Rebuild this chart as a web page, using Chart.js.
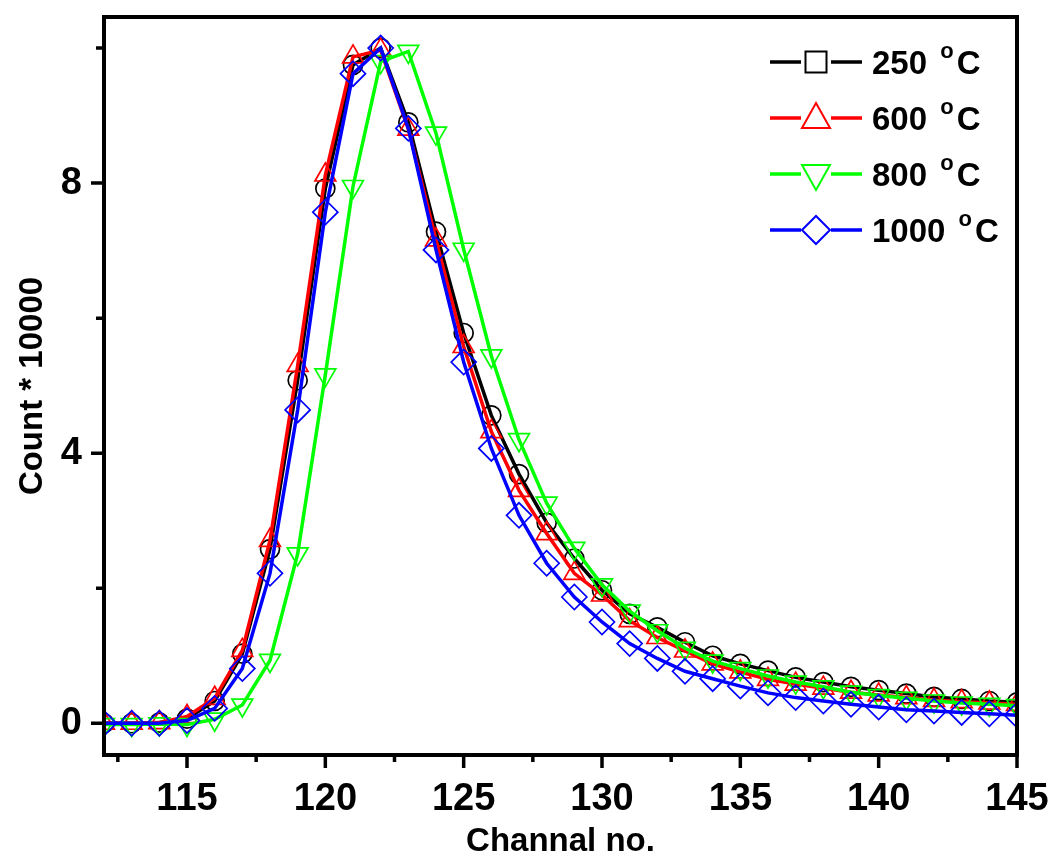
<!DOCTYPE html>
<html>
<head>
<meta charset="utf-8">
<title>Channel spectrum</title>
<script src="https://cdn.jsdelivr.net/npm/chart.js@4.4.1/dist/chart.umd.min.js"></script>
<style>
  html, body { margin: 0; padding: 0; background: #fff; }
  #wrap { width: 1051px; height: 859px; }
</style>
</head>
<body>
<div id="wrap"><canvas id="chart" width="1051" height="859"></canvas></div>
<script>
// channel numbers (x)
const channels = [112, 113, 114, 115, 116, 117, 118, 119, 120, 121, 122, 123, 124, 125, 126, 127, 128,
  129, 130, 131, 132, 133, 134, 135, 136, 137, 138, 139, 140, 141, 142, 143, 144, 145];

// counts / 10000
const c250 = [0.0, 0.0, 0.01, 0.07, 0.33, 1.03, 2.58, 5.08, 7.92, 9.75, 10.0, 8.9, 7.28, 5.78, 4.56, 3.69, 2.97,
  2.44, 1.97, 1.62, 1.42, 1.2, 1.0, 0.88, 0.78, 0.68, 0.61, 0.54, 0.49, 0.44, 0.39, 0.36, 0.33, 0.31];
const c600 = [0.0, 0.0, 0.01, 0.1, 0.37, 1.08, 2.71, 5.3, 8.12, 9.87, 9.97, 8.8, 7.16, 5.58, 4.32, 3.45, 2.81,
  2.22, 1.9, 1.52, 1.27, 1.07, 0.88, 0.76, 0.65, 0.58, 0.52, 0.46, 0.42, 0.38, 0.34, 0.32, 0.3, 0.28];
const c800 = [-0.02, -0.02, -0.01, -0.02, 0.06, 0.27, 0.93, 2.51, 5.16, 7.95, 9.8, 9.95, 8.74, 7.02, 5.44, 4.2, 3.26,
  2.59, 2.05, 1.66, 1.37, 1.11, 0.92, 0.81, 0.7, 0.61, 0.54, 0.46, 0.41, 0.37, 0.33, 0.3, 0.28, 0.26];
const c1000 = [0.0, 0.0, 0.0, 0.04, 0.22, 0.81, 2.22, 4.64, 7.57, 9.62, 10.0, 8.81, 7.01, 5.35, 4.07, 3.08, 2.37,
  1.87, 1.5, 1.18, 0.96, 0.77, 0.66, 0.55, 0.45, 0.38, 0.33, 0.28, 0.24, 0.2, 0.18, 0.16, 0.14, 0.12];

const seriesNames = ['250', '600', '800', '1000'];
const xTicks = [115, 120, 125, 130, 135, 140, 145];
const xMinorTicks = [112.5, 117.5, 122.5, 127.5, 132.5, 137.5, 142.5];
const yTicks = [0, 4, 8];
const yMinorTicks = [2, 6, 10];

const FONT = 'Liberation Sans, Arial, sans-serif';

function pts(vals) {
  return channels.map((c, i) => ({ x: c, y: vals[i] }));
}

function series(label, vals, color, style, radius, rotation, order) {
  return {
    label: label,
    data: pts(vals),
    borderColor: color,
    borderWidth: 3.5,
    tension: 0,
    pointStyle: style,
    pointRadius: radius,
    pointRotation: rotation,
    pointBorderColor: color,
    pointBackgroundColor: 'rgba(0,0,0,0)',
    pointBorderWidth: 1.7,
    order: order
  };
}

// frame + outward ticks
const framePlugin = {
  id: 'frame',
  afterDatasetsDraw(chart) {
    const { ctx, chartArea: a, scales } = chart;
    ctx.save();
    ctx.strokeStyle = '#000';
    ctx.lineWidth = 4;
    ctx.strokeRect(a.left, a.top, a.right - a.left, a.bottom - a.top);
    ctx.lineWidth = 3.5;
    ctx.beginPath();
    xTicks.concat(xMinorTicks).forEach(v => {
      const x = scales.x.getPixelForValue(v);
      const len = xTicks.includes(v) ? 13 : 7;
      ctx.moveTo(x, a.bottom);
      ctx.lineTo(x, a.bottom + len);
    });
    yTicks.concat(yMinorTicks).forEach(v => {
      const y = scales.y.getPixelForValue(v);
      const len = yTicks.includes(v) ? 13 : 8;
      ctx.moveTo(a.left, y);
      ctx.lineTo(a.left - len, y);
    });
    ctx.stroke();
    ctx.restore();
  }
};

// legend drawn like the original: line - marker - line, then "250 °C"
const legendPlugin = {
  id: 'customLegend',
  afterDraw(chart) {
    const ctx = chart.ctx;
    const rows = [62, 118, 174, 230];
    const marks = ['square', 'up', 'down', 'diamond'];
    ctx.save();
    chart.data.datasets.forEach((ds, i) => {
      const cy = rows[i];
      const cx = 816;
      ctx.strokeStyle = ds.borderColor;
      ctx.lineWidth = 3.5;
      ctx.beginPath();
      ctx.moveTo(770, cy); ctx.lineTo(801, cy);
      ctx.moveTo(831, cy); ctx.lineTo(862, cy);
      ctx.stroke();
      ctx.lineWidth = 2;
      ctx.beginPath();
      if (marks[i] === 'square') {
        ctx.rect(cx - 10.5, cy - 10.5, 21, 21);
      } else if (marks[i] === 'up') {
        ctx.moveTo(cx, cy - 15); ctx.lineTo(cx + 14, cy + 10); ctx.lineTo(cx - 14, cy + 10); ctx.closePath();
      } else if (marks[i] === 'down') {
        ctx.moveTo(cx - 14, cy - 9); ctx.lineTo(cx + 14, cy - 9); ctx.lineTo(cx, cy + 16); ctx.closePath();
      } else {
        ctx.moveTo(cx - 14, cy); ctx.lineTo(cx, cy - 14); ctx.lineTo(cx + 14, cy); ctx.lineTo(cx, cy + 14); ctx.closePath();
      }
      ctx.stroke();

      ctx.fillStyle = '#000';
      ctx.textBaseline = 'alphabetic';
      ctx.textAlign = 'left';
      ctx.font = 'bold 33px ' + FONT;
      let x = 872;
      const base = cy + 12;
      const num = ds.label + ' ';
      ctx.fillText(num, x, base);
      x += ctx.measureText(num).width + 4;
      ctx.font = 'bold 22px ' + FONT;
      ctx.fillText('o', x, base - 16);
      x += ctx.measureText('o').width + 3;
      ctx.font = 'bold 33px ' + FONT;
      ctx.fillText('C', x, base);
    });
    ctx.restore();
  }
};

function noPad(s) {
  s.paddingLeft = 0; s.paddingRight = 0; s.paddingTop = 0; s.paddingBottom = 0;
}

new Chart(document.getElementById('chart'), {
  type: 'line',
  data: {
    datasets: [
      series(seriesNames[0], c250, '#000000', 'circle', 9.5, 0, 4),
      series(seriesNames[1], c600, '#ff0000', 'triangle', 12, 0, 3),
      series(seriesNames[2], c800, '#00ff00', 'triangle', 12, 180, 2),
      series(seriesNames[3], c1000, '#0000ff', 'rectRot', 12.5, 0, 1)
    ]
  },
  options: {
    responsive: false,
    animation: false,
    layout: { padding: { top: 17, right: 34, left: 0, bottom: 0 } },
    plugins: {
      legend: { display: false },
      tooltip: { enabled: false }
    },
    scales: {
      x: {
        type: 'linear',
        min: 112,
        max: 145,
        afterBuildTicks: s => { s.ticks = xTicks.map(v => ({ value: v })); },
        afterFit: s => { s.height = 104; noPad(s); },
        grid: { display: false, drawTicks: false },
        border: { display: false },
        ticks: { color: '#000', font: { family: FONT, size: 38, weight: 'bold' }, padding: 22, maxRotation: 0 },
        title: {
          display: true,
          text: 'Channal no.',
          color: '#000',
          font: { family: FONT, size: 33, weight: 'bold', lineHeight: 1 },
          padding: { top: 0, bottom: 1 }
        }
      },
      y: {
        type: 'linear',
        min: -0.47,
        max: 10.46,
        afterBuildTicks: s => { s.ticks = yTicks.map(v => ({ value: v })); },
        afterFit: s => { s.width = 104; noPad(s); },
        grid: { display: false, drawTicks: false },
        border: { display: false },
        ticks: { color: '#000', font: { family: FONT, size: 38, weight: 'bold' }, padding: 22 },
        title: {
          display: true,
          text: 'Count * 10000',
          color: '#000',
          font: { family: FONT, size: 33, weight: 'bold', lineHeight: 1 },
          padding: { top: 16, bottom: 0 }
        }
      }
    }
  },
  plugins: [framePlugin, legendPlugin]
});
</script>
</body>
</html>
